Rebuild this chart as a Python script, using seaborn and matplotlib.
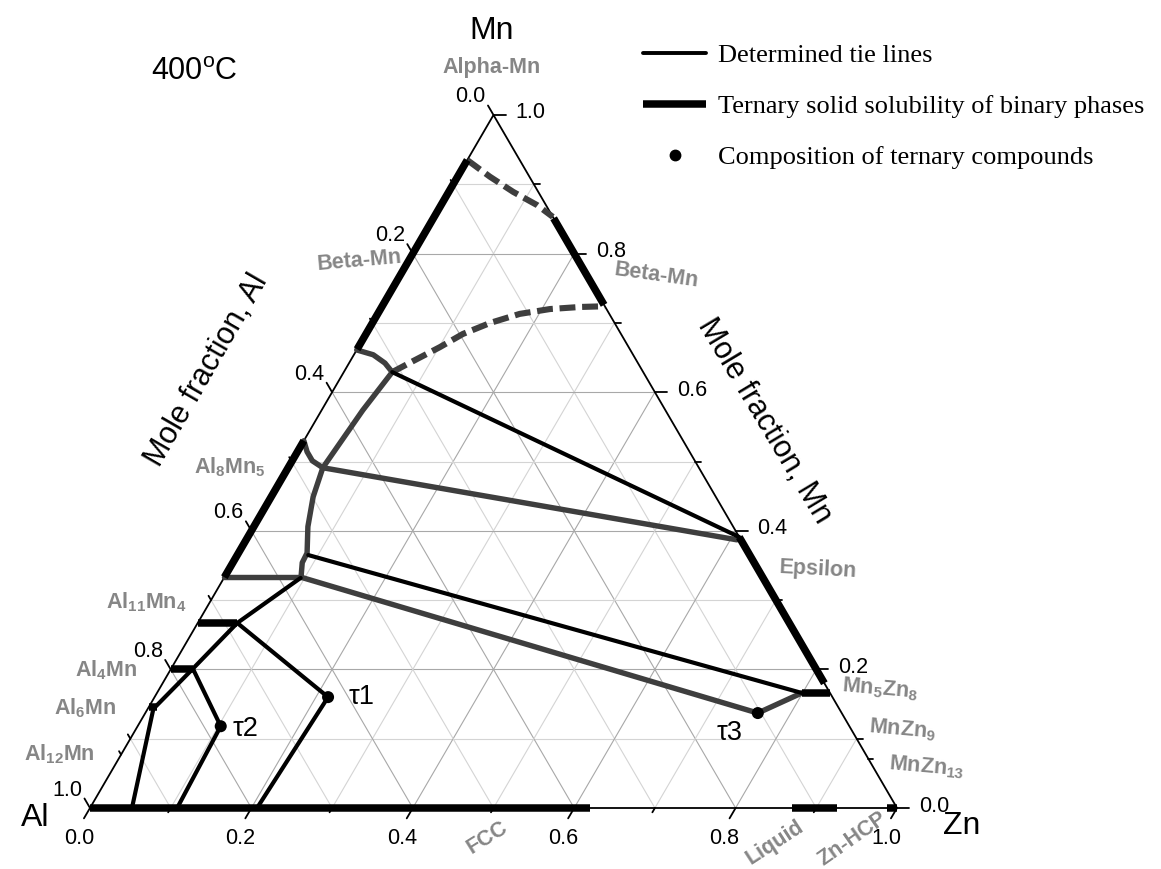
import numpy as np
import pandas as pd
import matplotlib
matplotlib.use("Agg")
import matplotlib.pyplot as plt
from matplotlib.lines import Line2D
import seaborn as sns

# ---------------- data: mole fractions (Al = 1 - Zn - Mn) ----------------
# ternary solid solubility of binary phases (thick black)
ss_beta_left_zn = [0.0, 0.0];      ss_beta_left_mn = [0.935, 0.662]
ss_al8mn5_zn = [0.0, 0.0];         ss_al8mn5_mn = [0.530, 0.333]
ss_beta_right_zn = [0.149, 0.274]; ss_beta_right_mn = [0.851, 0.726]
ss_eps_zn = [0.609, 0.820];        ss_eps_mn = [0.391, 0.180]
ss_mn5zn8_zn = [0.799, 0.834];     ss_mn5zn8_mn = [0.166, 0.166]
ss_al11mn4_zn = [0.0, 0.049];      ss_al11mn4_mn = [0.267, 0.267]
ss_al4mn_zn = [0.0, 0.027];        ss_al4mn_mn = [0.201, 0.201]
ss_al6mn_zn = [0.0, 0.010];        ss_al6mn_mn = [0.146, 0.146]
ss_fcc_zn = [0.0, 0.620];          ss_fcc_mn = [0.0, 0.0]
ss_liq_zn = [0.870, 0.926];        ss_liq_mn = [0.0, 0.0]
ss_hcp_zn = [0.988, 1.0];          ss_hcp_mn = [0.0, 0.0]

# determined tie lines (black)
tie1_zn = [0.060, 0.609];          tie1_mn = [0.629, 0.391]
tie2_zn = [0.088, 0.799];          tie2_mn = [0.365, 0.166]
tie3_zn = [0.095, 0.049];          tie3_mn = [0.332, 0.267]
tie4_zn = [0.049, 0.215];          tie4_mn = [0.267, 0.160]
tie5_zn = [0.215, 0.207];          tie5_mn = [0.160, 0.0]
tie6_zn = [0.049, 0.027, 0.008];   tie6_mn = [0.267, 0.201, 0.146]
tie7_zn = [0.027, 0.103];          tie7_mn = [0.201, 0.118]
tie8_zn = [0.103, 0.108];          tie8_mn = [0.118, 0.0]
tie9_zn = [0.007, 0.052];          tie9_mn = [0.143, 0.0]

# phase boundaries / other tie lines (dark grey)
g_beta_zn = [0.0, 0.024, 0.0445, 0.060];           g_beta_mn = [0.661, 0.654, 0.642, 0.629]
g_link_zn = [0.060, 0.051, 0.043];                  g_link_mn = [0.629, 0.574, 0.491]
g_al8top_zn = [0.0, 0.012, 0.025, 0.043];           g_al8top_mn = [0.530, 0.514, 0.501, 0.491]
g_al8side_zn = [0.043, 0.052, 0.067, 0.085, 0.086, 0.095]
g_al8side_mn = [0.491, 0.449, 0.406, 0.368, 0.354, 0.333]
g_al8bot_zn = [0.0, 0.095];                         g_al8bot_mn = [0.333, 0.333]
g_tie_eps_zn = [0.043, 0.608];                      g_tie_eps_mn = [0.491, 0.387]
g_tie_t3_zn = [0.095, 0.759, 0.799];                g_tie_t3_mn = [0.333, 0.137, 0.166]

# dashed boundaries (dark grey)
d_upper_zn = [0.0, 0.040, 0.080, 0.119, 0.147]
d_upper_mn = [0.935, 0.911, 0.889, 0.870, 0.853]
d_lower_zn = [0.060, 0.078, 0.101, 0.120, 0.146, 0.176, 0.210, 0.246, 0.276]
d_lower_mn = [0.629, 0.645, 0.665, 0.684, 0.700, 0.713, 0.720, 0.723, 0.724]

# ternary compounds
tau_names = ["\u03c41", "\u03c42", "\u03c43"]
tau_zn = [0.215, 0.103, 0.759]
tau_mn = [0.160, 0.118, 0.137]

# axes ticks
tick_vals = [0.0, 0.2, 0.4, 0.6, 0.8, 1.0]
tick_labels = ["0.0", "0.2", "0.4", "0.6", "0.8", "1.0"]
minor_vals = [0.1, 0.3, 0.5, 0.7, 0.9]
extra_left_mn = [0.077]    # Al12Mn
extra_right_mn = [0.071]   # MnZn13

# ---------------- styling ----------------
sns.set_theme(style="white")
plt.rcParams['font.family'] = ['Liberation Sans', 'DejaVu Sans']
plt.rcParams['text.color'] = 'black'
plt.rcParams['mathtext.fontset'] = 'custom'
plt.rcParams['mathtext.rm'] = 'Liberation Sans'
plt.rcParams['mathtext.bf'] = 'Liberation Sans:bold'
plt.rcParams['mathtext.it'] = 'Liberation Sans:italic'

W, H = 1161, 869
X0, Y0, SX, SY = 90.0, 808.0, 807.0, 693.0   # pixel frame of the triangle

fig = plt.figure(figsize=(W / 100, H / 100), dpi=100)
ax = fig.add_axes([0, 0, 1, 1])
ax.set_xlim(-X0 / SX, (W - X0) / SX)
ax.set_ylim(-(H - Y0) / SY, Y0 / SY)
ax.axis('off')


def to_xy(zn, mn):
    zn = np.asarray(zn, float)
    mn = np.asarray(mn, float)
    return zn + mn / 2.0, mn


def P(X, Y):
    return X / W, 1 - Y / H


def draw(zn, mn, color, lw, dashes=None, cap='butt', z=3):
    x, y = to_xy(zn, mn)
    df = pd.DataFrame({"x": x, "y": y})
    sns.lineplot(data=df, x="x", y="y", ax=ax, sort=False, estimator=None,
                 color=color, linewidth=lw, solid_capstyle=cap,
                 solid_joinstyle='round', zorder=z, legend=False)
    ln = ax.lines[-1]
    if dashes is not None:
        ln.set_dashes(dashes)
        ln.set_dash_capstyle('butt')
    return ln


# ---- grid ----
for k in range(1, 10):
    v = k / 10
    col = '#a8a8a8' if k % 2 == 0 else '#d4d4d4'
    for zn, mn in (([0, 1 - v], [v, v]), ([v, v], [0, 1 - v]), ([1 - v, 0], [0, 1 - v])):
        x, y = to_xy(zn, mn)
        ax.plot(x, y, color=col, lw=0.8, zorder=1)

# ---- triangle frame ----
x, y = to_xy([0, 1, 0, 0], [0, 0, 1, 0])
ax.plot(x, y, color='black', lw=1.3, zorder=2, solid_joinstyle='miter')


def tick(zn, mn, dx, dy, L):
    x, y = to_xy([zn], [mn])
    ax.plot([x[0], x[0] + dx * L / SX], [y[0], y[0] - dy * L / SY],
            color='black', lw=1.3, zorder=2)


TFS = 15.5
bdir = (-0.505, 0.863)   # bottom ticks (screen, y down)
ldir = (-0.503, -0.864)  # left ticks
rdir = (1.0, 0.0)        # right ticks
for v, lab in zip(tick_vals, tick_labels):
    # bottom: Zn
    tick(v, 0, *bdir, 12)
    x, y = to_xy([v], [0])
    ax.annotate(lab, (x[0], y[0]), xytext=(-11, -31), textcoords='offset pixels',
                ha='center', va='center', fontsize=TFS)
    # left: Al
    tick(0, 1 - v, *ldir, 11)
    x, y = to_xy([0], [1 - v])
    ax.annotate(lab, (x[0], y[0]), xytext=(-23, 18), textcoords='offset pixels',
                ha='center', va='center', fontsize=TFS)
    # right: Mn
    tick(1 - v, v, *rdir, 12)
    x, y = to_xy([1 - v], [v])
    ax.annotate(lab, (x[0], y[0]), xytext=(37, 2), textcoords='offset pixels',
                ha='center', va='center', fontsize=TFS)
for v in minor_vals:
    tick(v, 0, *bdir, 5)
    tick(0, 1 - v, *ldir, 5)
    tick(1 - v, v, *rdir, 6)
for m in extra_left_mn:
    tick(0, m, *ldir, 4)
for m in extra_right_mn:
    tick(1 - m, m, *rdir, 5)

# ---- phase diagram ----
DG = '#3e3e3e'
for zn, mn in [(g_beta_zn, g_beta_mn), (g_link_zn, g_link_mn), (g_al8top_zn, g_al8top_mn),
               (g_al8side_zn, g_al8side_mn), (g_al8bot_zn, g_al8bot_mn),
               (g_tie_eps_zn, g_tie_eps_mn), (g_tie_t3_zn, g_tie_t3_mn)]:
    draw(zn, mn, DG, 3.9, cap='round', z=3)

for zn, mn in [(d_upper_zn, d_upper_mn), (d_lower_zn, d_lower_mn)]:
    draw(zn, mn, DG, 4.4, dashes=(2.6, 1.1), z=3)

for zn, mn in [(tie1_zn, tie1_mn), (tie2_zn, tie2_mn), (tie3_zn, tie3_mn), (tie4_zn, tie4_mn),
               (tie5_zn, tie5_mn), (tie6_zn, tie6_mn), (tie7_zn, tie7_mn), (tie8_zn, tie8_mn),
               (tie9_zn, tie9_mn)]:
    draw(zn, mn, 'black', 3.0, cap='round', z=4)

for zn, mn in [(ss_beta_left_zn, ss_beta_left_mn), (ss_al8mn5_zn, ss_al8mn5_mn),
               (ss_beta_right_zn, ss_beta_right_mn), (ss_eps_zn, ss_eps_mn),
               (ss_mn5zn8_zn, ss_mn5zn8_mn), (ss_al11mn4_zn, ss_al11mn4_mn),
               (ss_al4mn_zn, ss_al4mn_mn), (ss_al6mn_zn, ss_al6mn_mn),
               (ss_fcc_zn, ss_fcc_mn), (ss_liq_zn, ss_liq_mn), (ss_hcp_zn, ss_hcp_mn)]:
    draw(zn, mn, 'black', 5.4, cap='butt', z=5)

tx, ty = to_xy(tau_zn, tau_mn)
sns.scatterplot(x=tx, y=ty, ax=ax, color='black', s=75, edgecolor='none', zorder=6, legend=False)
tau_off = [(33, 0), (25, -3), (-28, -20)]
for name, xx, yy, off in zip(tau_names, tx, ty, tau_off):
    ax.annotate(name, (xx, yy), xytext=off, textcoords='offset pixels',
                ha='center', va='center', fontsize=19.5, color='black')

# ---- corner and axis titles ----
fig.text(*P(492, 31), "Mn", ha='center', va='center', fontsize=23)
fig.text(*P(35, 818), "Al", ha='center', va='center', fontsize=23)
fig.text(*P(962, 826), "Zn", ha='center', va='center', fontsize=23)
fig.text(*P(151, 72), r"400$^{\mathrm{o}}$C", ha='left', va='center', fontsize=22)
fig.text(*P(207, 370), "Mole fraction, Al", ha='center', va='center', fontsize=22,
         rotation=60, rotation_mode='anchor')
fig.text(*P(764, 421), "Mole fraction, Mn", ha='center', va='center', fontsize=22,
         rotation=-59, rotation_mode='anchor')

# ---- phase names ----
GR = '#868686'
phase_labels = [
    ("Alpha-Mn", 492, 67, 0), ("Beta-Mn", 359, 261, 5), ("Beta-Mn", 656, 275, -8),
    (r"$\mathbf{Al_8Mn_5}$", 230, 467, 0), (r"$\mathbf{Al_{11}Mn_4}$", 146, 602, 0),
    (r"$\mathbf{Al_4Mn}$", 106, 670, 0), (r"$\mathbf{Al_6Mn}$", 85, 708, 0),
    (r"$\mathbf{Al_{12}Mn}$", 59, 754, 0), ("Epsilon", 818, 570, -3),
    (r"$\mathbf{Mn_5Zn_8}$", 880, 689, -5), (r"$\mathbf{MnZn_9}$", 902, 730, -5),
    (r"$\mathbf{MnZn_{13}}$", 927, 767, -5), ("FCC", 487, 838, 32),
    ("Liquid", 775, 843, 33), ("Zn-HCP", 853, 839, 35),
]
for txt, X, Y, rot in phase_labels:
    fig.text(*P(X, Y), txt, ha='center', va='center', fontsize=15.5, color=GR,
             fontweight='bold', rotation=rot, rotation_mode='anchor')

# ---- legend ----
handles = [
    Line2D([], [], color='black', lw=2.8),
    Line2D([], [], color='black', lw=5.4, solid_capstyle='butt'),
    Line2D([], [], color='black', lw=0, marker='o', markersize=7.5),
]
labels = ["Determined tie lines", "Ternary solid solubility of binary phases",
          "Composition of ternary compounds"]
leg = ax.legend(handles, labels, loc='upper left', bbox_to_anchor=P(643, 44),
                bbox_transform=fig.transFigure, frameon=False, borderpad=0,
                borderaxespad=0, handlelength=2.4, handletextpad=0.45,
                labelspacing=1.04, prop={'family': 'Liberation Serif', 'size': 19})

fig.savefig("out.png", dpi=100)
